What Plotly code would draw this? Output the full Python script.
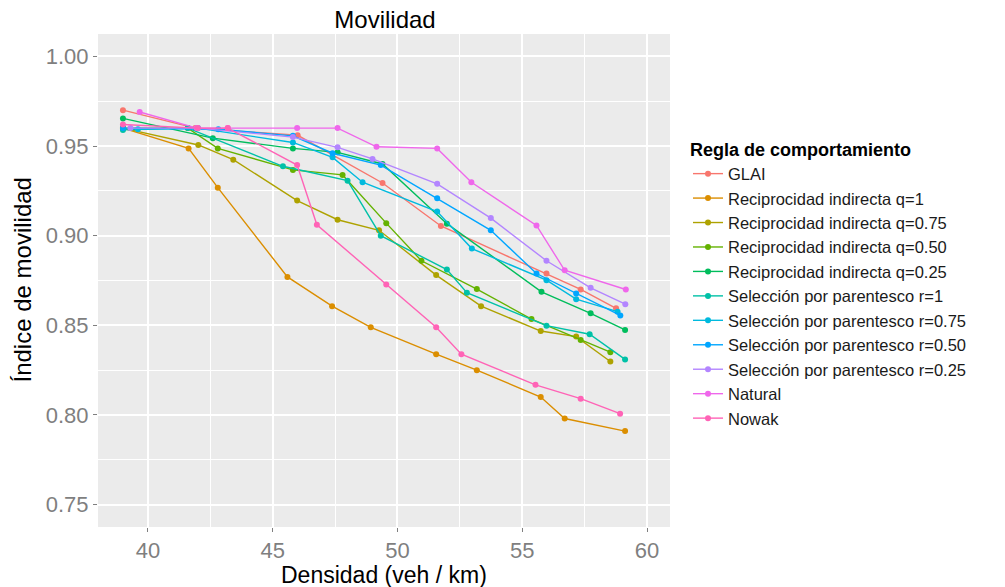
import plotly.graph_objects as go

series_names = [
    "GLAI",
    "Reciprocidad indirecta q=1",
    "Reciprocidad indirecta q=0.75",
    "Reciprocidad indirecta q=0.50",
    "Reciprocidad indirecta q=0.25",
    "Selección por parentesco r=1",
    "Selección por parentesco r=0.75",
    "Selección por parentesco r=0.50",
    "Selección por parentesco r=0.25",
    "Natural",
    "Nowak",
]
colors = ["#F8766D", "#DB8E00", "#AEA200", "#64B200", "#00BD5C", "#00C1A7",
          "#00BADE", "#00A6FF", "#B385FF", "#EF67EB", "#FF63B6"]

glai_x = [39.0, 41.9, 46.0, 49.4, 51.74, 55.97, 57.34, 58.76]
glai_y = [0.970, 0.960, 0.956, 0.9294, 0.9054, 0.8789, 0.870, 0.8595]

q1_x = [39.0, 41.63, 42.8, 45.59, 47.38, 48.93, 51.55, 53.18, 55.74, 56.7, 59.12]
q1_y = [0.960, 0.9487, 0.9268, 0.877, 0.8607, 0.8489, 0.8339, 0.825, 0.810, 0.798, 0.791]

q075_x = [39.0, 42.02, 43.42, 45.98, 47.6, 49.26, 51.55, 53.35, 55.74, 57.16, 58.53]
q075_y = [0.960, 0.9506, 0.9424, 0.9196, 0.9089, 0.903, 0.878, 0.8607, 0.8468, 0.8437, 0.8298]

q050_x = [39.0, 41.6, 42.8, 45.81, 47.8, 49.55, 50.96, 53.18, 55.37, 57.34, 58.53]
q050_y = [0.960, 0.960, 0.9487, 0.9367, 0.9339, 0.907, 0.886, 0.8702, 0.8535, 0.8418, 0.835]

q025_x = [39.0, 42.6, 45.81, 47.6, 49.4, 51.98, 55.77, 57.74, 59.12]
q025_y = [0.9654, 0.9544, 0.9487, 0.9465, 0.940, 0.9067, 0.8687, 0.8567, 0.8474]

r1_x = [39.0, 41.6, 45.41, 48.0, 49.33, 51.98, 52.78, 55.97, 57.7, 59.12]
r1_y = [0.959, 0.960, 0.9387, 0.9307, 0.900, 0.8811, 0.8682, 0.8498, 0.845, 0.831]

r075_x = [39.6, 42.0, 45.81, 47.4, 48.6, 51.59, 52.98, 55.97, 57.16, 58.82]
r075_y = [0.9594, 0.960, 0.952, 0.9437, 0.9298, 0.9135, 0.8928, 0.8752, 0.8646, 0.8576]

r050_x = [39.0, 42.82, 45.81, 47.4, 49.33, 51.59, 53.74, 55.57, 57.16, 58.93]
r050_y = [0.960, 0.9594, 0.9557, 0.946, 0.9394, 0.9209, 0.903, 0.8789, 0.8678, 0.8555]

r025_x = [39.3, 42.0, 45.81, 47.6, 49.0, 51.59, 53.74, 55.97, 57.74, 59.13]
r025_y = [0.960, 0.960, 0.955, 0.9493, 0.9428, 0.9289, 0.9098, 0.886, 0.8709, 0.8618]

natural_x = [39.67, 41.96, 43.2, 45.98, 47.6, 49.16, 51.59, 52.96, 55.57, 56.7, 59.15]
natural_y = [0.969, 0.960, 0.960, 0.960, 0.960, 0.9496, 0.9487, 0.9298, 0.9057, 0.8807, 0.870]

nowak_x = [39.0, 42.0, 43.2, 45.98, 46.77, 49.55, 51.55, 52.56, 55.53, 57.34, 58.92]
nowak_y = [0.962, 0.960, 0.960, 0.9394, 0.9061, 0.8728, 0.8489, 0.8339, 0.8168, 0.8091, 0.8007]

xs = [glai_x, q1_x, q075_x, q050_x, q025_x, r1_x, r075_x, r050_x, r025_x, natural_x, nowak_x]
ys = [glai_y, q1_y, q075_y, q050_y, q025_y, r1_y, r075_y, r050_y, r025_y, natural_y, nowak_y]

x_ticks = [40, 45, 50, 55, 60]
y_ticks = [0.75, 0.80, 0.85, 0.90, 0.95, 1.00]

FONT = "Liberation Sans, Arial, sans-serif"

W, H = 1005, 587
L, R, T, B = 98, 335, 34, 60
PW, PH = W - L - R, H - T - B

fig = go.Figure()
for name, c, x, y in zip(series_names, colors, xs, ys):
    fig.add_trace(go.Scatter(
        x=x, y=y, name=name, mode="lines+markers",
        line=dict(color=c, width=1.4),
        marker=dict(color=c, size=6),
    ))

fig.update_layout(
    width=W, height=H,
    margin=dict(l=L, r=R, t=T, b=B, autoexpand=False),
    paper_bgcolor="white",
    plot_bgcolor="#EBEBEB",
    font=dict(family=FONT, color="black"),
    title=dict(text="Movilidad", x=385 / W, xanchor="center",
               y=1 - 20 / H, yanchor="middle",
               font=dict(size=24, color="black")),
    showlegend=True,
    legend=dict(
        title=dict(text="<b>Regla de comportamiento</b>", font=dict(size=18, color="black")),
        font=dict(size=16.5, color="#1A1A1A"),
        x=(688 - L) / PW, xanchor="left",
        y=1 - (133 - T) / PH, yanchor="top",
        bgcolor="rgba(0,0,0,0)",
        tracegroupgap=0, itemwidth=30,
    ),
    xaxis=dict(
        range=[38.0, 60.92], automargin=False,
        tickmode="array", tickvals=x_ticks, ticktext=[str(v) for v in x_ticks],
        tickfont=dict(size=22, color="#7F7F7F"),
        ticks="outside", ticklen=4, tickcolor="#7F7F7F",
        showgrid=True, gridcolor="white", gridwidth=1.6,
        minor=dict(dtick=2.5, tick0=0, showgrid=True, gridcolor="white", gridwidth=0.6),
        zeroline=False, showline=False,
    ),
    yaxis=dict(
        range=[0.7375, 1.0125], automargin=False,
        tickmode="array", tickvals=y_ticks, ticktext=[f"{v:.2f}" for v in y_ticks],
        tickfont=dict(size=22, color="#7F7F7F"),
        ticks="outside", ticklen=4, tickcolor="#7F7F7F",
        showgrid=True, gridcolor="white", gridwidth=1.6,
        minor=dict(dtick=0.025, tick0=0, showgrid=True, gridcolor="white", gridwidth=0.6),
        zeroline=False, showline=False,
    ),
    annotations=[
        dict(text="Densidad (veh / km)", xref="paper", yref="paper",
             x=0.5, y=-(575 - (H - B)) / PH, xanchor="center", yanchor="middle",
             showarrow=False, font=dict(size=23, color="black")),
        dict(text="Índice de movilidad", xref="paper", yref="paper",
             x=-(L - 22) / PW, y=0.5, xanchor="center", yanchor="middle",
             textangle=-90, showarrow=False, font=dict(size=24, color="black")),
    ],
)

fig.write_html("out.html",
               config={"displayModeBar": False},
               post_script="document.body.style.margin='0';document.body.style.overflow='hidden';")
